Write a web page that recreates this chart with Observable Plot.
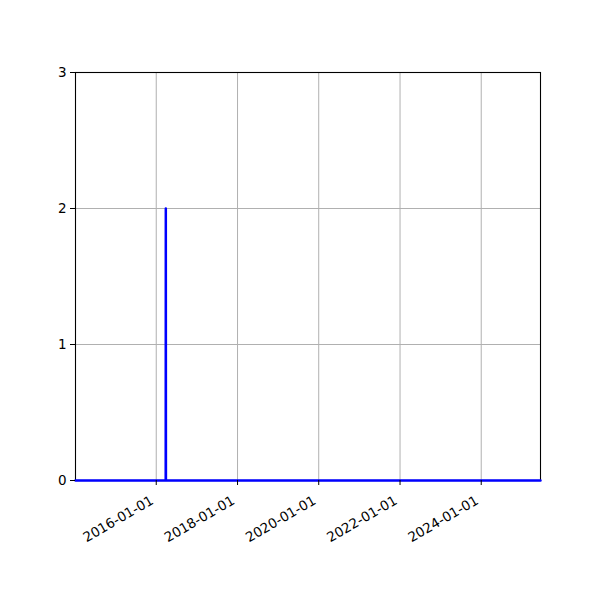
<!DOCTYPE html>
<html>
<head>
<meta charset="utf-8">
<script src="https://cdn.jsdelivr.net/npm/d3@7"></script>
<script src="https://cdn.jsdelivr.net/npm/@observablehq/plot@0.6"></script>
<style>
  html, body { margin: 0; padding: 0; background: #fff; }
  #chart svg { display: block; }
</style>
</head>
<body>
<div id="chart"></div>
<script>
const dates = ["2014-01-05", "2016-03-26", "2016-03-27", "2016-03-28", "2025-06-17"];
const values = [0, 0, 2, 0, 0];
const xTickDates = ["2016-01-01", "2018-01-01", "2020-01-01", "2022-01-01", "2024-01-01"];
const yTicks = [0, 1, 2, 3];
const xDomain = ["2014-01-05", "2025-06-17"];

const parse = d3.utcParse("%Y-%m-%d");
const fmt = d3.utcFormat("%Y-%m-%d");
const data = dates.map((d, i) => ({date: parse(d), value: values[i]}));
const xt = xTickDates.map(parse);

const chart = Plot.plot({
  width: 600,
  height: 600,
  marginLeft: 75,
  marginRight: 60,
  marginTop: 72,
  marginBottom: 120,
  style: {fontFamily: "DejaVu Sans", fontSize: "13.5px", background: "#fff", color: "#000"},
  x: {type: "utc", domain: xDomain.map(parse)},
  y: {domain: [0, 3]},
  marks: [
    Plot.gridX(xt, {stroke: "#b0b0b0", strokeOpacity: 1, strokeWidth: 1}),
    Plot.gridY(yTicks, {stroke: "#b0b0b0", strokeOpacity: 1, strokeWidth: 1}),
    Plot.frame({stroke: "#000", strokeWidth: 1.1}),
    Plot.line(data, {x: "date", y: "value", stroke: "blue", strokeWidth: 2.5, curve: "linear"}),
    Plot.axisX(xt, {tickFormat: () => "", tickSize: 5, label: null}),
    Plot.axisX(xt, {tickFormat: fmt, tickRotate: -30, tickSize: 0, tickPadding: 19, dx: -4, label: null, fontSize: 13.5}),
    Plot.axisY(yTicks, {tickFormat: "d", tickSize: 5, tickPadding: 4, label: null, fontSize: 13.5})
  ]
});
document.getElementById("chart").appendChild(chart);
</script>
</body>
</html>
